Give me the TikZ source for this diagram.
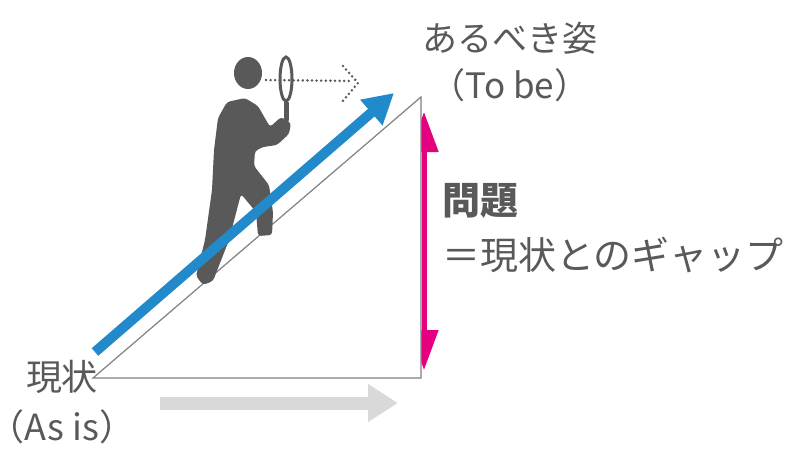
\documentclass[tikz,border=0pt]{standalone}
\usepackage{fontspec}
\setmainfont{Noto Sans CJK JP}
\usetikzlibrary{arrows.meta}
\definecolor{txtgray}{HTML}{595959}
\definecolor{climbblue}{HTML}{228ACB}
\definecolor{gapred}{HTML}{E4007F}
\definecolor{pathgray}{HTML}{D9D9D9}
\definecolor{edgegray}{HTML}{808080}
\tikzset{
  lbl/.style={text=txtgray, inner sep=0pt, align=center},
  sight/.style={txtgray, line width=2.8pt, dash pattern=on 0pt off 4.6pt, line cap=round}
}

\begin{document}
\begin{tikzpicture}[x=1pt,y=-1pt]
  \useasboundingbox (0,0) rectangle (793,455);
  \coordinate (asisPt) at (93,378);
  \coordinate (corner) at (421,378);
  \coordinate (tobePt) at (421,97);
  \coordinate (gapTop) at (424,112);
  \coordinate (gapBot) at (424,370);
  \coordinate (climbA) at (95,352);
  \coordinate (climbB) at (394,93);
  \coordinate (moveA)  at (160,403);
  \coordinate (moveB)  at (398,403);
  \coordinate (eye)    at (266,80);
  \coordinate (look)   at (353,81);

  \draw[gapred, line width=5pt, {Triangle[length=40pt,width=28pt]}-{Triangle[length=40pt,width=28pt]}]
    (gapTop) -- (gapBot);
  \filldraw[fill=white, draw=edgegray, line width=1.2pt] (asisPt) -- (corner) -- (tobePt) -- cycle;

  \draw[pathgray, line width=13pt, -{Triangle[length=30pt,width=36pt]}] (moveA) -- (moveB);

  % climber with magnifier
  \fill[txtgray] (248,73) ellipse [x radius=14, y radius=16];
  \fill[txtgray, rounded corners=3pt]
    (245,98) -- (258,106) -- (270,127) -- (281,117) -- (291,123) -- (289,134)
    -- (277,145) -- (263,147) -- (255,151) -- (254,166) -- (269,185) -- (273,212)
    -- (272,235) -- (258,236) -- (256,212) -- (241,194) -- (229,240) -- (213,281)
    -- (203,285) -- (196,276) -- (205,240) -- (212,190) -- (214,150) -- (218,118)
    -- (227,102) -- cycle;
  \draw[txtgray, line width=5pt, line cap=round] (286,103) -- (286,120);
  \draw[txtgray, line width=3pt] (286,79) ellipse [x radius=6, y radius=22];
  \draw[sight] (eye) -- (look);
  \draw[sight] (343,66) -- (358,83) -- (342,102);

  \draw[climbblue, line width=10pt, -{Triangle[length=30pt,width=32pt]}] (climbA) -- (climbB);

  \node[lbl, font=\fontsize{35}{47}\selectfont] (tobe) at (510,62) {あるべき姿\\（To be）};
  \node[lbl, font=\fontsize{36}{50}\selectfont] (asis) at (62,402) {現状\\（As is）};
  \node[lbl, anchor=west, align=left, font=\fontsize{38}{55}\selectfont] (gap) at (442,228)
    {\textbf{問題}\\＝現状とのギャップ};
\end{tikzpicture}
\end{document}
